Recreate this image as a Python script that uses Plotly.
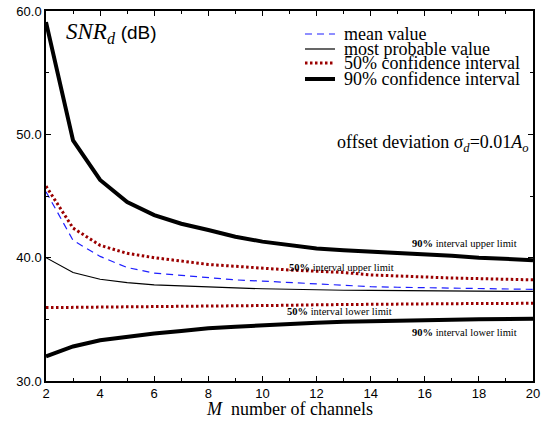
import plotly.graph_objects as go

M = list(range(2, 21))
ci90_upper = [59.1, 49.5, 46.3, 44.5, 43.45, 42.75, 42.24, 41.7, 41.3, 41.0,
              40.75, 40.6, 40.5, 40.4, 40.3, 40.15, 40.0, 39.9, 39.8]
ci50_upper = [45.8, 42.4, 41.0, 40.35, 40.0, 39.7, 39.45, 39.3, 39.13, 39.0,
              38.9, 38.8, 38.6, 38.5, 38.4, 38.35, 38.3, 38.25, 38.2]
mean_value = [45.35, 41.4, 40.1, 39.2, 38.75, 38.55, 38.37, 38.2, 38.1, 37.98,
              37.86, 37.75, 37.65, 37.6, 37.56, 37.52, 37.48, 37.45, 37.43]
most_probable = [40.0, 38.8, 38.25, 37.97, 37.8, 37.7, 37.65, 37.55, 37.48, 37.42,
                 37.38, 37.36, 37.35, 37.33, 37.31, 37.3, 37.28, 37.27, 37.26]
ci50_lower = [35.95, 35.97, 35.98, 36.0, 36.0, 36.01, 36.02, 36.05, 36.1, 36.14,
              36.18, 36.21, 36.24, 36.25, 36.26, 36.27, 36.28, 36.29, 36.3]
ci90_lower = [32.0, 32.8, 33.3, 33.6, 33.85, 34.05, 34.27, 34.4, 34.53, 34.63,
              34.72, 34.8, 34.86, 34.9, 34.94, 34.97, 35.0, 35.03, 35.05]

legend_labels = ["mean value", "most probable value",
                 "50% confidence interval", "90% confidence interval"]

RED = "#9b0000"
BLUE = "#1f1fff"
SERIF = "Liberation Serif"
SANS = "Liberation Sans"

styles = {
    "mean": dict(color=BLUE, width=1.2, dash="7px,5px"),
    "mp": dict(color="black", width=1.2),
    "ci50": dict(color=RED, width=3, dash="2.5px,2.5px"),
    "ci90": dict(color="black", width=4),
}

fig = go.Figure()
fig.add_trace(go.Scatter(x=M, y=ci90_upper, mode="lines", line=styles["ci90"], showlegend=False))
fig.add_trace(go.Scatter(x=M, y=ci50_upper, mode="lines", line=styles["ci50"], showlegend=False))
fig.add_trace(go.Scatter(x=M, y=mean_value, mode="lines", line=styles["mean"], showlegend=False))
fig.add_trace(go.Scatter(x=M, y=most_probable, mode="lines", line=styles["mp"], showlegend=False))
fig.add_trace(go.Scatter(x=M, y=ci50_lower, mode="lines", line=styles["ci50"], showlegend=False))
fig.add_trace(go.Scatter(x=M, y=ci90_lower, mode="lines", line=styles["ci90"], showlegend=False))

# manual legend
leg_keys = ["mean", "mp", "ci50", "ci90"]
leg_y = [0.9378, 0.8973, 0.8595, 0.8162]
for key, lab, yy in zip(leg_keys, legend_labels, leg_y):
    fig.add_shape(type="line", xref="paper", yref="paper", x0=0.5318, x1=0.5934,
                  y0=yy, y1=yy, line=dict(styles[key]))
    fig.add_annotation(xref="paper", yref="paper", x=0.6078, y=yy, text=lab,
                       xanchor="left", yanchor="middle", showarrow=False,
                       font=dict(family=SERIF, size=18, color="black"))

fig.add_annotation(xref="paper", yref="paper", x=0.037, y=0.94,
                   text="<i>SNR</i><sub><i>d</i></sub> <span style='font-family:Liberation Sans;font-size:19px'>(dB)</span>",
                   xanchor="left", yanchor="middle", showarrow=False,
                   font=dict(family=SERIF, size=23, color="black"))

fig.add_annotation(xref="paper", yref="paper", x=0.5934, y=0.6432,
                   text="offset deviation σ<sub><i>d</i></sub>=0.01<i>A</i><sub><i>o</i></sub>",
                   xanchor="left", yanchor="middle", showarrow=False,
                   font=dict(family=SERIF, size=18, color="black"))

small = dict(family=SERIF, size=10.5, color="black")
fig.add_annotation(xref="paper", yref="paper", x=0.9713, y=0.3703,
                   text="<b>90%</b> interval upper limit", xanchor="right", yanchor="middle",
                   showarrow=False, font=small)
fig.add_annotation(xref="paper", yref="paper", x=0.4949, y=0.3081,
                   text="<b>50%</b> interval upper limit", xanchor="left", yanchor="middle",
                   showarrow=False, font=small)
fig.add_annotation(xref="paper", yref="paper", x=0.4908, y=0.1865,
                   text="<b>50%</b> interval lower limit", xanchor="left", yanchor="middle",
                   showarrow=False, font=small)
fig.add_annotation(xref="paper", yref="paper", x=0.9713, y=0.1324,
                   text="<b>90%</b> interval lower limit", xanchor="right", yanchor="middle",
                   showarrow=False, font=small)

# x-axis title
fig.add_annotation(xref="paper", yref="paper", x=0.5, y=-0.076,
                   text="<i>M</i>  number of channels", xanchor="center", yanchor="middle",
                   showarrow=False, font=dict(family=SERIF, size=18, color="black"))

axis_common = dict(showgrid=False, zeroline=False, showline=True, linecolor="black",
                   linewidth=1.5, mirror="ticks", ticks="inside", ticklen=5,
                   tickcolor="black", tickwidth=1, automargin=False,
                   tickfont=dict(family=SANS, size=13, color="black"))

fig.update_xaxes(range=[2, 20], tick0=2, dtick=2,
                 minor=dict(dtick=1, ticks="inside", ticklen=3, tickcolor="black"),
                 **axis_common)
fig.update_yaxes(range=[30, 60], tick0=30, dtick=10, tickformat=".1f",
                 minor=dict(dtick=5, ticks="inside", ticklen=3, tickcolor="black"),
                 **axis_common)

fig.update_layout(width=554, height=424, margin=dict(l=46, r=21, t=11, b=43),
                  plot_bgcolor="white", paper_bgcolor="white", showlegend=False)

fig.write_html("out.html", config={"displayModeBar": False},
               post_script="document.body.style.margin='0px';")
